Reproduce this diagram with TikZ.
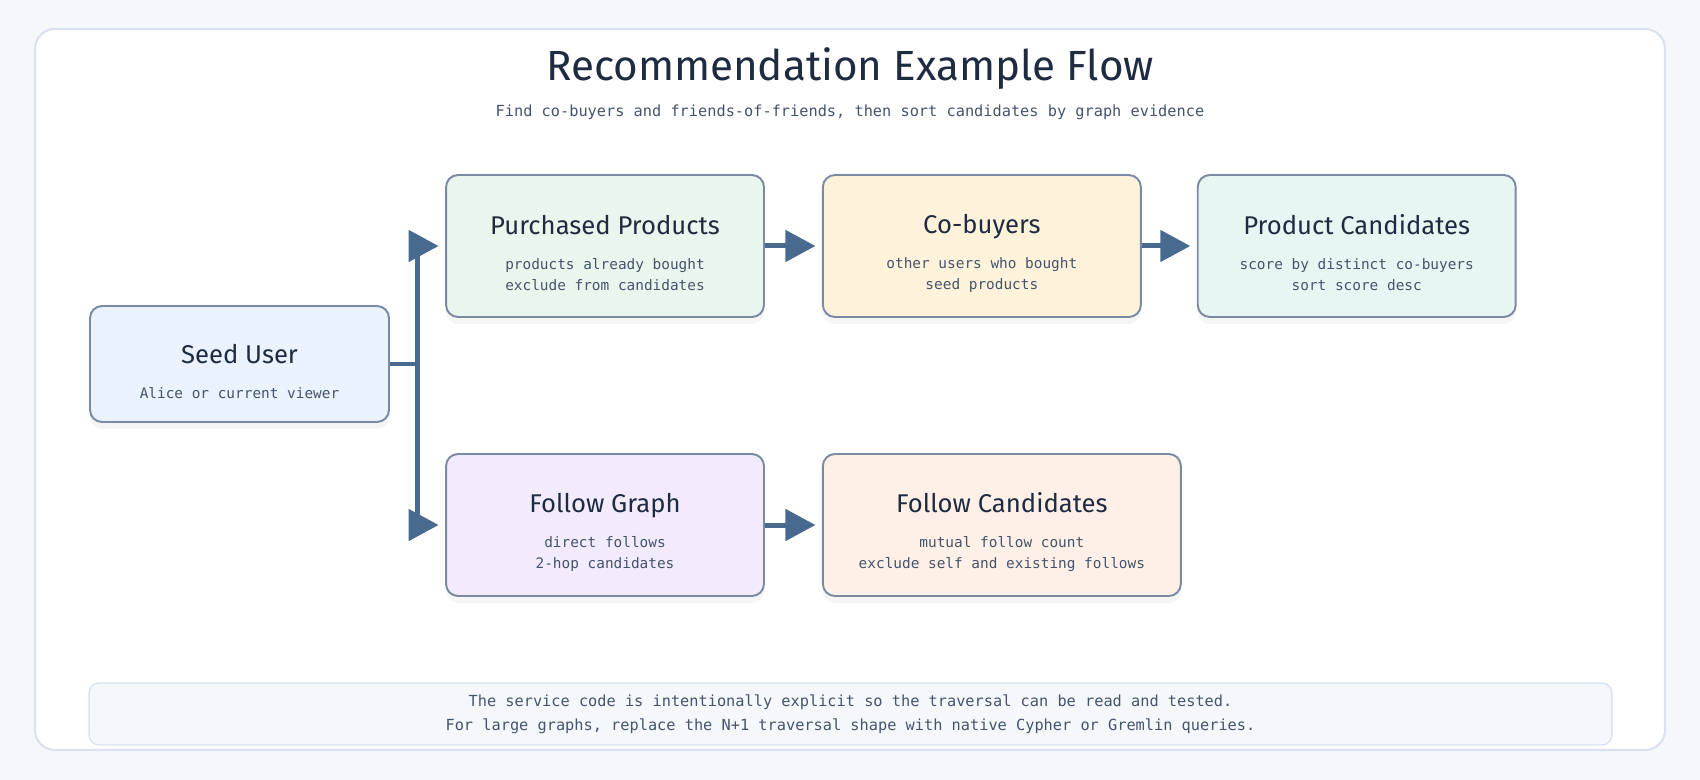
\documentclass[tikz,border=0pt]{standalone}
\usepackage{fontspec}
\setmainfont{Fira Sans}
\setmonofont{DejaVu Sans Mono}
\usepackage{tikz}
\usetikzlibrary{arrows.meta,positioning,shadows}
\definecolor{pagebg}{HTML}{F5F8FB}
\definecolor{frameline}{HTML}{D9E2EE}
\definecolor{boxline}{HTML}{7A8AA3}
\definecolor{flowcol}{HTML}{496A8F}
\definecolor{titlecol}{HTML}{1E2B40}
\definecolor{subcol}{HTML}{44546B}
\definecolor{seedfill}{HTML}{E9F2FD}
\definecolor{purchfill}{HTML}{E9F6ED}
\definecolor{cobuyfill}{HTML}{FFF2DB}
\definecolor{prodfill}{HTML}{E8F6F3}
\definecolor{followfill}{HTML}{F2EAFD}
\definecolor{fcandfill}{HTML}{FFF0E7}
\tikzstyle{card} = [rectangle,rounded corners=0.24cm,draw=boxline,line width=1.1pt,minimum width=6.36cm,minimum height=2.84cm,align=center,text=titlecol,drop shadow={opacity=0.08,shadow xshift=0pt,shadow yshift=-0.14cm}]
\tikzstyle{flow} = [draw=flowcol,line width=0.1cm]
\tikzstyle{flowarrow} = [flow,-{Triangle[length=0.6cm,width=0.62cm]},shorten >=0.13cm]
\newcommand{\cardhead}{\color{titlecol}\fontsize{14.6}{17}\selectfont\rule{0pt}{19pt}}
\newcommand{\cardbody}{\color{subcol}\ttfamily\fontsize{8.2}{13.6}\selectfont}
\newcommand{\cardtext}[3]{\cardhead #1\\[8pt]\cardbody #2\\\cardbody #3}

\begin{document}
\begin{tikzpicture}[x=0.02cm,y=-0.02cm]
	% page and card
	\fill[pagebg] (0,0) rectangle (1700,780);
	\draw[frameline,fill=white,line width=1.2pt,rounded corners=0.4cm] (35,29) rectangle (1665,750);
	\node[text=titlecol,font=\fontsize{24}{28}\selectfont] (title) at (850,69) {Recommendation Example Flow};
	\node[text=subcol,font=\ttfamily\fontsize{8.7}{12}\selectfont] (subtitle) at (850,112) {Find co-buyers and friends-of-friends, then sort candidates by graph evidence};

	\begin{scope}[node distance=1.14cm]
		\node[card,fill=seedfill,minimum width=5.98cm,minimum height=2.32cm] (seed) at (239.5,364) {\cardhead Seed User\\[8pt]\cardbody Alice or current viewer};
		\node[card,fill=purchfill] (purch) at (605,246) {\cardtext{Purchased Products}{products already bought}{exclude from candidates}};
		\node[card,fill=cobuyfill] (cobuy) [right=of purch] {\cardtext{Co-buyers}{other users who bought}{seed products}};
		\node[card,fill=prodfill,node distance=1.1cm] (prodcand) [right=of cobuy] {\cardtext{Product Candidates}{score by distinct co-buyers}{sort score desc}};
		\node[card,fill=followfill] (follow) at (605,525) {\cardtext{Follow Graph}{direct follows}{2-hop candidates}};
		\node[card,fill=fcandfill,minimum width=7.16cm] (fcand) [right=of follow] {\cardtext{Follow Candidates}{mutual follow count}{exclude self and existing follows}};

		% fork from the seed user
		\coordinate (fork) at (417,364);
		\draw[flow] (seed.east) -- (fork);
		\draw[flow] (fork |- purch.west) -- (fork |- follow.west);
		\draw[flowarrow] (fork |- purch.west) -- (purch.west);
		\draw[flowarrow] (fork |- follow.west) -- (follow.west);
		\draw[flowarrow] (purch) -- (cobuy);
		\draw[flowarrow] (cobuy) -- (prodcand);
		\draw[flowarrow] (follow) -- (fcand);
	\end{scope}

	% note at the bottom
	\node[rectangle,rounded corners=0.2cm,draw=frameline,fill=pagebg,line width=0.8pt,minimum width=30.46cm,minimum height=1.24cm,align=center,text=subcol,font=\ttfamily\fontsize{8.7}{13.6}\selectfont] (note) at (850.5,714) {The service code is intentionally explicit so the traversal can be read and tested.\\For large graphs, replace the N+1 traversal shape with native Cypher or Gremlin queries.};
\end{tikzpicture}
\end{document}
